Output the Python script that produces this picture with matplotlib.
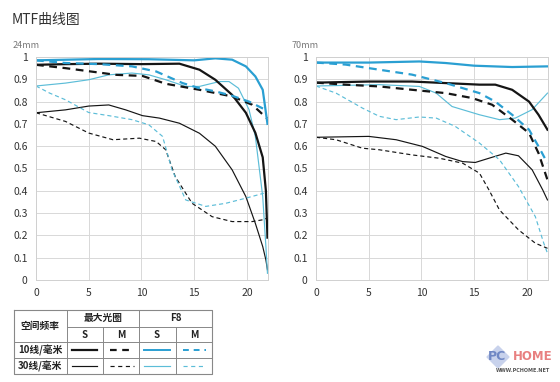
import matplotlib
matplotlib.use('Agg')
from matplotlib import pyplot as plt

plt.rcParams['font.family'] = ['Noto Sans CJK SC', 'DejaVu Sans']

# 24mm curves (x = lp position in mm from centre, y = MTF)
w_s10_max_x = [0, 2.8, 6, 10, 13.6, 15.5, 17, 18.6, 19.9, 20.8, 21.5, 21.8, 21.95]
w_s10_max_y = [0.965, 0.968, 0.97, 0.968, 0.97, 0.943, 0.898, 0.83, 0.75, 0.66, 0.55, 0.40, 0.19]
w_m10_max_x = [0, 2.8, 6, 7.6, 10.1, 12.3, 15.5, 18.6, 20.5, 21.9]
w_m10_max_y = [0.965, 0.95, 0.93, 0.92, 0.915, 0.88, 0.853, 0.823, 0.786, 0.725]
w_s10_f8_x = [0, 6, 10.7, 15, 17, 18.6, 19.9, 20.8, 21.5, 21.95]
w_s10_f8_y = [0.985, 0.991, 0.99, 0.985, 0.994, 0.988, 0.958, 0.913, 0.853, 0.70]
w_m10_f8_x = [0, 2.8, 6, 9.1, 11.4, 13.9, 15.5, 17, 18.6, 20.2, 21.9]
w_m10_f8_y = [0.985, 0.973, 0.968, 0.958, 0.935, 0.883, 0.86, 0.846, 0.826, 0.80, 0.76]
w_s30_max_x = [0, 2.8, 5, 6.9, 8.5, 10.1, 11.7, 13.6, 15.5, 17, 18.6, 19.9, 20.8, 21.5, 21.8, 21.95]
w_s30_max_y = [0.75, 0.763, 0.78, 0.785, 0.763, 0.737, 0.726, 0.703, 0.658, 0.60, 0.494, 0.374, 0.254, 0.15, 0.09, 0.045]
w_m30_max_x = [0, 2.8, 5, 7.3, 9.8, 11.4, 12.3, 13.2, 14.8, 16.7, 18.6, 20.5, 21.5, 21.9]
w_m30_max_y = [0.75, 0.711, 0.659, 0.629, 0.636, 0.621, 0.584, 0.464, 0.344, 0.284, 0.262, 0.262, 0.27, 0.277]
w_s30_f8_x = [0, 2.8, 5, 6.9, 9.1, 10.7, 12.3, 14.2, 15.5, 17.4, 18.3, 19.2, 20.2, 20.8, 21.5, 21.8, 21.95]
w_s30_f8_y = [0.87, 0.883, 0.898, 0.92, 0.928, 0.92, 0.898, 0.868, 0.868, 0.89, 0.89, 0.86, 0.764, 0.644, 0.374, 0.15, 0.03]
w_m30_f8_x = [0, 1.3, 2.8, 5, 6.9, 9.1, 10.7, 12, 12.9, 14.2, 16.1, 18, 19.9, 21.6]
w_m30_f8_y = [0.87, 0.838, 0.808, 0.751, 0.737, 0.719, 0.696, 0.644, 0.494, 0.359, 0.33, 0.344, 0.367, 0.389]

# 70mm curves
t_s10_f8_x = [0, 5, 9.8, 12.3, 15, 18.6, 21.95]
t_s10_f8_y = [0.975, 0.975, 0.98, 0.973, 0.961, 0.955, 0.958]
t_m10_f8_x = [0, 2.8, 6, 9.1, 12.3, 15.5, 17, 18.6, 20.2, 21.1, 21.95]
t_m10_f8_y = [0.975, 0.966, 0.943, 0.921, 0.883, 0.838, 0.80, 0.741, 0.674, 0.599, 0.524]
t_s10_max_x = [0, 5, 9.1, 12.3, 15.5, 17, 18.6, 20.2, 21.1, 21.95]
t_s10_max_y = [0.885, 0.89, 0.89, 0.883, 0.876, 0.876, 0.853, 0.80, 0.741, 0.674]
t_m10_max_x = [0, 2.8, 6, 9.1, 12.3, 14.8, 16.7, 18.6, 20.2, 21.1, 21.95]
t_m10_max_y = [0.885, 0.876, 0.868, 0.853, 0.838, 0.816, 0.786, 0.719, 0.659, 0.569, 0.449]
t_s30_f8_x = [0, 6, 9.8, 11.4, 12.9, 15.5, 17.4, 18.9, 20.5, 21.95]
t_s30_f8_y = [0.87, 0.876, 0.868, 0.838, 0.778, 0.741, 0.719, 0.726, 0.764, 0.838]
t_m30_f8_x = [0, 1.9, 4.4, 6, 7.6, 9.8, 11.4, 13.2, 15.5, 17.4, 19.2, 20.8, 21.6, 21.95]
t_m30_f8_y = [0.87, 0.838, 0.771, 0.734, 0.719, 0.731, 0.726, 0.689, 0.614, 0.539, 0.419, 0.284, 0.165, 0.12]
t_s30_max_x = [0, 5, 7.6, 10.1, 12.3, 13.9, 15.1, 16.4, 18, 19.2, 20.5, 21.5, 21.95]
t_s30_max_y = [0.64, 0.644, 0.629, 0.599, 0.554, 0.531, 0.527, 0.546, 0.569, 0.557, 0.494, 0.404, 0.359]
t_m30_max_x = [0, 1.9, 4.4, 6, 9.1, 11.7, 13.9, 15.5, 16.4, 17.4, 19.2, 20.8, 21.95]
t_m30_max_y = [0.64, 0.629, 0.591, 0.584, 0.561, 0.546, 0.524, 0.479, 0.404, 0.314, 0.225, 0.165, 0.142]

x_ticks = [0, 5, 10, 15, 20]
y_ticks = [0, 0.1, 0.2, 0.3, 0.4, 0.5, 0.6, 0.7, 0.8, 0.9, 1]
y_labels = ['0', '0.1', '0.2', '0.3', '0.4', '0.5', '0.6', '0.7', '0.8', '0.9', '1']

BLACK = '#151515'
BLUE = '#2a9fd2'
LBLUE = '#5cbdd8'
DASH = (0, (3.5, 2.5))
THICK = 1.6
THIN = 0.85

fig = plt.figure(figsize=(5.6, 3.82), dpi=100)
fig.patch.set_facecolor('white')

def style(ax):
    ax.set_xlim(0, 22)
    ax.set_ylim(0, 1)
    ax.set_xticks(x_ticks)
    ax.set_yticks(y_ticks)
    ax.set_yticklabels(y_labels)
    ax.grid(True, color='#d8d8d8', linewidth=0.7)
    ax.set_axisbelow(True)
    ax.tick_params(length=0, labelsize=7.5, colors='#333333', pad=6)
    for s in ax.spines.values():
        s.set_color('#d0d0d0')
        s.set_linewidth(0.7)

ax1 = fig.add_axes([36/560, 1-280/382, 232/560, 223/382])
style(ax1)
ax1.plot(w_s30_max_x, w_s30_max_y, color=BLACK, lw=THIN)
ax1.plot(w_m30_max_x, w_m30_max_y, color=BLACK, lw=THIN, ls=DASH)
ax1.plot(w_s30_f8_x, w_s30_f8_y, color=LBLUE, lw=THIN)
ax1.plot(w_m30_f8_x, w_m30_f8_y, color=LBLUE, lw=THIN, ls=DASH)
ax1.plot(w_m10_max_x, w_m10_max_y, color=BLACK, lw=THICK, ls=DASH)
ax1.plot(w_s10_max_x, w_s10_max_y, color=BLACK, lw=THICK)
ax1.plot(w_m10_f8_x, w_m10_f8_y, color=BLUE, lw=THICK, ls=DASH)
ax1.plot(w_s10_f8_x, w_s10_f8_y, color=BLUE, lw=THICK)

ax2 = fig.add_axes([316/560, 1-280/382, 232/560, 223/382])
style(ax2)
ax2.plot(t_s30_max_x, t_s30_max_y, color=BLACK, lw=THIN)
ax2.plot(t_m30_max_x, t_m30_max_y, color=BLACK, lw=THIN, ls=DASH)
ax2.plot(t_s30_f8_x, t_s30_f8_y, color=LBLUE, lw=THIN)
ax2.plot(t_m30_f8_x, t_m30_f8_y, color=LBLUE, lw=THIN, ls=DASH)
ax2.plot(t_m10_max_x, t_m10_max_y, color=BLACK, lw=THICK, ls=DASH)
ax2.plot(t_s10_max_x, t_s10_max_y, color=BLACK, lw=THICK)
ax2.plot(t_m10_f8_x, t_m10_f8_y, color=BLUE, lw=THICK, ls=DASH)
ax2.plot(t_s10_f8_x, t_s10_f8_y, color=BLUE, lw=THICK)

fig.text(12/560, 1-20/382, 'MTF曲线图', fontsize=10, color='#333333', va='center')
fig.text(13/560, 1-45/382, '24mm', fontsize=6.5, color='#777777', va='center')
fig.text(292/560, 1-45/382, '70mm', fontsize=6.5, color='#777777', va='center')

# legend table
tb = fig.add_axes([0, 0, 1, 1], zorder=5)
tb.set_xlim(0, 560)
tb.set_ylim(382, 0)
tb.axis('off')
gc = '#888888'
tb.plot([14, 212, 212, 14, 14], [310, 310, 374, 374, 310], color=gc, lw=0.8)
tb.plot([67, 67], [310, 374], color=gc, lw=0.7)
tb.plot([139, 139], [310, 374], color=gc, lw=0.7)
for xv in (103, 176):
    tb.plot([xv, xv], [327, 374], color=gc, lw=0.7)
tb.plot([67, 212], [327, 327], color=gc, lw=0.7)
tb.plot([14, 212], [342, 342], color=gc, lw=0.7)
tb.plot([14, 212], [358, 358], color=gc, lw=0.7)
tf = dict(fontsize=7, color='#222222', ha='center', va='center', fontweight='bold')
tb.text(40, 326, '空间频率', **tf)
tb.text(103, 318, '最大光圈', **tf)
tb.text(176, 318, 'F8', **tf)
for xv, lab in ((85, 'S'), (121, 'M'), (157, 'S'), (194, 'M')):
    tb.text(xv, 335, lab, **tf)
tb.text(40, 350, '10线/毫米', **tf)
tb.text(40, 366, '30线/毫米', **tf)
tb.plot([72, 97], [350, 350], color=BLACK, lw=THICK)
tb.plot([110, 134], [350, 350], color=BLACK, lw=THICK, ls=(0, (3, 2.5)))
tb.plot([144, 170], [350, 350], color=BLUE, lw=1.4)
tb.plot([183, 206], [350, 350], color=BLUE, lw=1.4, ls=(0, (3, 2.5)))
tb.plot([72, 97], [366, 366], color=BLACK, lw=THIN)
tb.plot([110, 134], [366, 366], color=BLACK, lw=THIN, ls=(0, (3.5, 3)))
tb.plot([144, 170], [366, 366], color=LBLUE, lw=THIN)
tb.plot([183, 206], [366, 366], color=LBLUE, lw=THIN, ls=(0, (3.5, 3)))

# watermark
tb.fill([487, 498, 509, 498], [357, 346, 357, 368], color='#c8d2ec', zorder=1)
tb.text(497, 357, 'PC', fontsize=9, fontweight='bold', color='#6f87c4', ha='center', va='center', family='DejaVu Sans', zorder=2)
tb.text(533, 357, 'HOME', fontsize=8.5, fontweight='bold', color='#e88080', ha='center', va='center', family='DejaVu Sans')
tb.text(523, 371, 'WWW.PCHOME.NET', fontsize=3.5, fontweight='bold', color='#555555', ha='center', va='center', family='DejaVu Sans')

plt.savefig('out.png', dpi=100)
